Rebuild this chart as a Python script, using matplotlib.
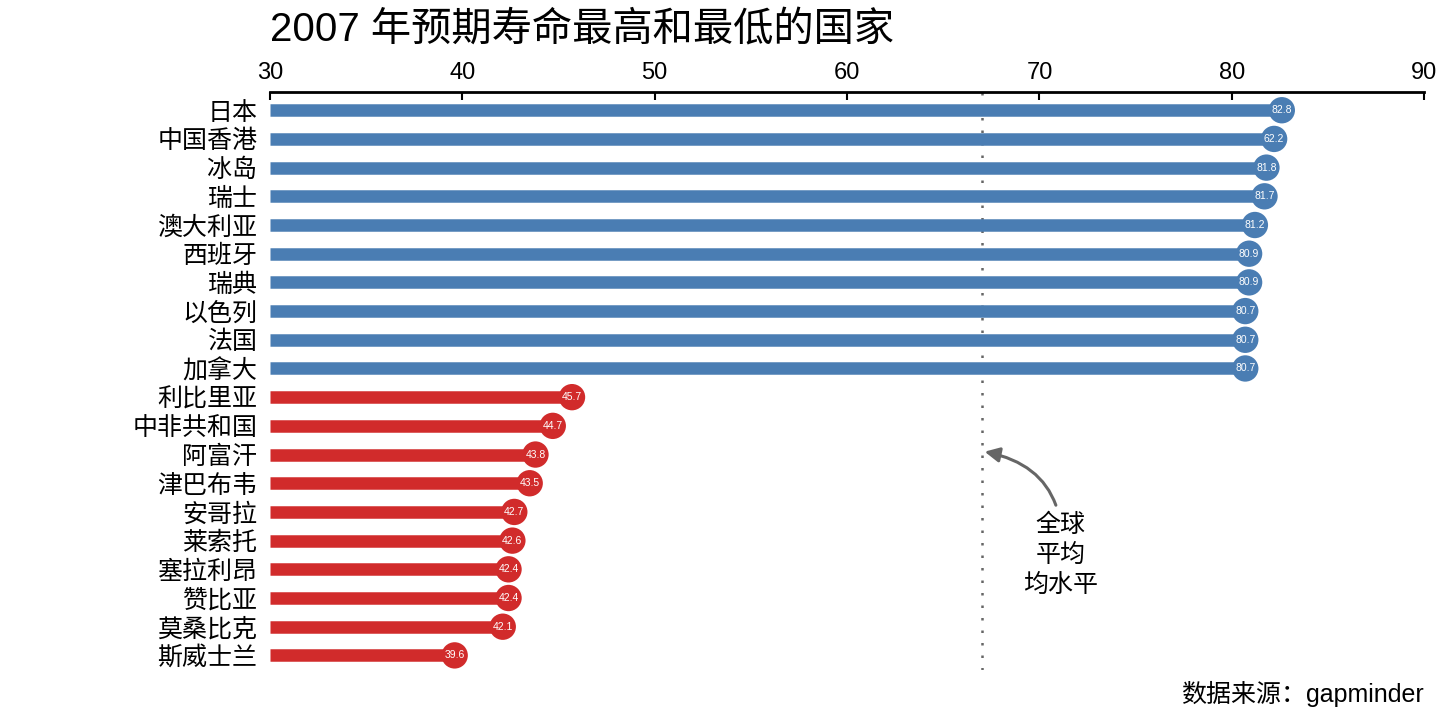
import matplotlib
matplotlib.use("Agg")
import matplotlib.pyplot as plt

plt.rcParams['font.family'] = ['Liberation Sans', 'Noto Sans CJK SC', 'DejaVu Sans']

countries = ["日本", "中国香港", "冰岛", "瑞士", "澳大利亚", "西班牙", "瑞典", "以色列", "法国", "加拿大",
             "利比里亚", "中非共和国", "阿富汗", "津巴布韦", "安哥拉", "莱索托", "塞拉利昂", "赞比亚", "莫桑比克", "斯威士兰"]
values = [82.6, 82.2, 81.8, 81.7, 81.2, 80.9, 80.9, 80.7, 80.7, 80.7,
          45.7, 44.7, 43.8, 43.5, 42.7, 42.6, 42.4, 42.4, 42.1, 39.6]
value_labels = ["82.8", "62.2", "81.8", "81.7", "81.2", "80.9", "80.9", "80.7", "80.7", "80.7",
                "45.7", "44.7", "43.8", "43.5", "42.7", "42.6", "42.4", "42.4", "42.1", "39.6"]
groups = ["high"] * 10 + ["low"] * 10
world_mean = 67.0
x_ticks = [30, 40, 50, 60, 70, 80, 90]

colors = {"high": "#4a7db3", "low": "#d12b2b"}

fig = plt.figure(figsize=(14.4, 7.2), dpi=100)
ax = fig.add_axes([0.1875, 0.069, 0.8015, 0.803])

for i, (v, g, lab) in enumerate(zip(values, groups, value_labels)):
    c = colors[g]
    ax.plot([30, v], [i, i], color=c, lw=9, solid_capstyle='butt', zorder=2)
    ax.scatter([v], [i], s=360, color=c, zorder=3, edgecolors='none')
    ax.text(v, i, lab, color='white', fontsize=7.5, ha='center', va='center', zorder=4)

ax.axvline(world_mean, color='#666666', ls=(0, (1, 4)), lw=1.8, zorder=1)

ax.set_xlim(30, 90)
ax.set_ylim(19.52, -0.63)
ax.set_yticks(range(len(countries)))
ax.set_yticklabels(countries, fontsize=18)
ax.tick_params(axis='y', length=0, pad=9)
ax.xaxis.tick_top()
ax.set_xticks(x_ticks)
ax.set_xticklabels([str(t) for t in x_ticks], fontsize=17)
ax.tick_params(axis='x', direction='in', length=6, width=1.5, pad=6)
for s in ['left', 'right', 'bottom']:
    ax.spines[s].set_visible(False)
ax.spines['top'].set_linewidth(2)

ax.annotate("全球\n平均\n均水平", xy=(world_mean + 0.15, 11.9), xytext=(71.1, 15.5),
            fontsize=18, ha='center', va='center', linespacing=1.3,
            arrowprops=dict(arrowstyle='-|>', color='#666666', lw=2.2, mutation_scale=22,
                            connectionstyle='arc3,rad=0.45', shrinkA=4, shrinkB=0))

fig.text(270 / 1440, 1 - 30 / 720, "2007 年预期寿命最高和最低的国家", fontsize=29, ha='left', va='center')
fig.text(1424 / 1440, 1 - 694 / 720, "数据来源：gapminder", fontsize=18, ha='right', va='center')

fig.savefig("out.png", dpi=100)
